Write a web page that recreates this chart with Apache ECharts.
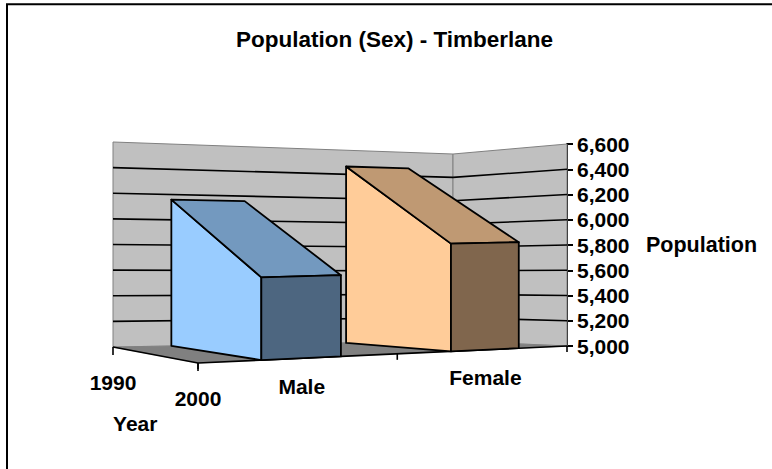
<!DOCTYPE html>
<html>
<head>
<meta charset="utf-8">
<title>Population (Sex) - Timberlane</title>
<script src="https://cdn.jsdelivr.net/npm/echarts@6/dist/echarts.min.js"></script>
<style>
  html, body { margin: 0; padding: 0; background: #fff; }
  #main { width: 772px; height: 469px; }
</style>
</head>
<body>
<div id="main"></div>
<script>
// values
const categories = ['Male', 'Female']
const years = ['1990', '2000']
const pop1990 = [6160, 6465]
const pop2000 = [5610, 5830]
const yMin = 5000
const yMax = 6600
const yStep = 200

const fontFamily = '"Liberation Sans", Arial, sans-serif'
const labelFont = 'bold 21px ' + fontFamily

// face colours: side, top (shaded), front (dark)
const sideColors = ['#99CCFF', '#FFCC99']
const topColors = ['#7399BF', '#BF9973']
const frontColors = ['#4D6680', '#80664D']

// screen corners of the 3d plot box
// u = category direction, d = depth (1990 back -> 2000 front), h = value
const box = {
  blb: [113, 347], brb: [453, 341], flb: [198, 363], frb: [567, 346],
  blt: [113, 142], brt: [453, 154], flt: [198, 143], frt: [567, 144]
}
const persp = 0.174 // right end of the category axis is further away
const barRatio = 0.4

function lerp (a, b, t) {
  return [a[0] + (b[0] - a[0]) * t, a[1] + (b[1] - a[1]) * t]
}

function project (u, d, h) {
  const s = u * (1 + persp) / (1 + persp * u)
  const bottom = lerp(lerp(box.blb, box.brb, s), lerp(box.flb, box.frb, s), d)
  const top = lerp(lerp(box.blt, box.brt, s), lerp(box.flt, box.frt, s), d)
  return lerp(bottom, top, h)
}

// value -> 0..1 height through the y axis scale
function valueHeight (api, cs, v) {
  return (cs.y + cs.height - api.coord([0, v])[1]) / cs.height
}
// category position -> 0..1 across the grid through the x axis scale
function catU (api, cs, x) {
  return (x - cs.x) / cs.width
}

function poly (points, fill, stroke, width) {
  return { type: 'polygon', shape: { points }, style: { fill, stroke, lineWidth: width, lineJoin: 'round' } }
}
function seg (a, b, stroke, width) {
  return { type: 'line', shape: { x1: a[0], y1: a[1], x2: b[0], y2: b[1] }, style: { stroke, lineWidth: width } }
}
function label (text, p, dx, dy) {
  return {
    type: 'text',
    x: p[0] + dx,
    y: p[1] + dy,
    style: {
      text, font: labelFont, fill: '#000',
      align: 'center', verticalAlign: 'middle', textAlign: 'center', textVerticalAlign: 'middle'
    }
  }
}

// walls, floor, gridlines and the two lower axes
function renderWalls (params, api) {
  const cs = params.coordSys
  const band = api.size([1, 0])[0]
  const children = []
  children.push(poly([project(0, 0, 0), project(1, 0, 0), project(1, 0, 1), project(0, 0, 1)], '#C0C0C0', '#808080', 1))
  children.push(poly([project(1, 0, 0), project(1, 1, 0), project(1, 1, 1), project(1, 0, 1)], '#C0C0C0', '#808080', 1))
  for (let v = yMin + yStep; v < yMax; v += yStep) {
    const h = valueHeight(api, cs, v)
    children.push(seg(project(0, 0, h), project(1, 0, h), '#000', 1.6))
    children.push(seg(project(1, 0, h), project(1, 1, h), '#000', 1.6))
  }
  children.push(poly([project(0, 0, 0), project(1, 0, 0), project(1, 1, 0), project(0, 1, 0)], '#808080', '#808080', 0.5))
  children.push(seg(project(0, 0, 0), project(0, 1, 0), '#000', 1.6))
  children.push(seg(project(0, 1, 0), project(1, 1, 0), '#000', 1.6))

  // year (depth) axis
  years.forEach((yr, j) => {
    const p = project(0, j / (years.length - 1), 0)
    children.push(seg(p, [p[0], p[1] + 8], '#000', 1.6))
    children.push(label(yr, p, 0, 35))
  })
  children.push(label('Year', project(0, 0.25, 0), 1, 72))

  // category axis
  for (let k = 0; k <= categories.length; k++) {
    const x = api.coord([Math.min(k, categories.length - 1), yMin])[0] + (k < categories.length ? -band / 2 : band / 2)
    const p = project(catU(api, cs, x), 1, 0)
    children.push(seg(p, [p[0], p[1] + 6], '#000', 1.6))
  }
  categories.forEach((c, i) => {
    const p = project(catU(api, cs, api.coord([i, yMin])[0]), 1, 0)
    children.push(label(c, p, 0, 28))
  })
  return { type: 'group', children }
}

// one slab per category, 1990 value at the back, 2000 value at the front
function renderSlab (params, api) {
  const cs = params.coordSys
  const i = api.value(0)
  const cx = api.coord([i, yMin])[0]
  const half = api.size([1, 0])[0] * barRatio / 2
  const u0 = catU(api, cs, cx - half)
  const u1 = catU(api, cs, cx + half)
  const hb = valueHeight(api, cs, api.value(1))
  const hf = valueHeight(api, cs, api.value(2))
  const side = [project(u0, 0, 0), project(u0, 1, 0), project(u0, 1, hf), project(u0, 0, hb)]
  const top = [project(u0, 0, hb), project(u1, 0, hb), project(u1, 1, hf), project(u0, 1, hf)]
  const front = [project(u0, 1, 0), project(u1, 1, 0), project(u1, 1, hf), project(u0, 1, hf)]
  return {
    type: 'group',
    children: [
      poly(side, sideColors[i], '#000', 1.8),
      poly(top, topColors[i], '#000', 1.8),
      poly(front, frontColors[i], '#000', 1.8)
    ]
  }
}

const chart = echarts.init(document.getElementById('main'), null, { renderer: 'svg' })
chart.setOption({
  animation: false,
  backgroundColor: '#fff',
  textStyle: { fontFamily },
  title: {
    text: 'Population (Sex) - Timberlane',
    left: 231,
    top: 23,
    textStyle: { fontFamily, fontWeight: 'bold', fontSize: 22.5, color: '#000' }
  },
  graphic: [{
    type: 'rect',
    shape: { x: 7, y: 4.3, width: 1000, height: 1000 },
    style: { fill: 'none', stroke: '#000', lineWidth: 2 },
    silent: true
  }],
  grid: { left: 113, right: 205, top: 144, bottom: 123 },
  xAxis: { type: 'category', data: categories, show: false },
  yAxis: {
    type: 'value',
    position: 'right',
    min: yMin,
    max: yMax,
    interval: yStep,
    name: 'Population',
    nameLocation: 'middle',
    nameRotate: 0,
    nameGap: 79,
    nameTextStyle: { fontFamily, fontWeight: 'bold', fontSize: 21.5, color: '#000' },
    axisLine: { show: true, lineStyle: { color: '#000', width: 2 } },
    axisTick: { show: true, length: 6, lineStyle: { color: '#000', width: 2 } },
    axisLabel: {
      margin: 10,
      color: '#000',
      fontFamily,
      fontWeight: 'bold',
      fontSize: 21,
      formatter: v => String(v).replace(/\B(?=(\d{3})+(?!\d))/g, ',')
    },
    splitLine: { show: false }
  },
  series: [
    {
      type: 'custom',
      name: 'walls',
      z: 1,
      silent: true,
      renderItem: renderWalls,
      data: [[0, yMin]]
    },
    {
      type: 'custom',
      name: 'Population',
      z: 2,
      renderItem: renderSlab,
      encode: { x: 0, y: [1, 2] },
      data: categories.map((c, i) => [i, pop1990[i], pop2000[i]])
    }
  ]
})
</script>
</body>
</html>
